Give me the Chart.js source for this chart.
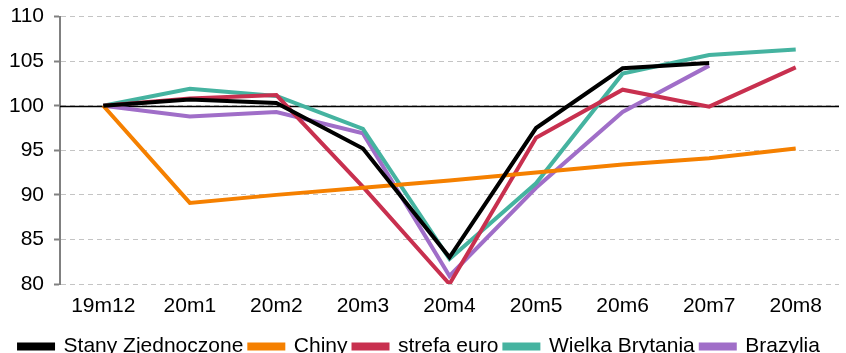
<!DOCTYPE html>
<html>
<head>
<meta charset="utf-8">
<script src="https://cdn.jsdelivr.net/npm/chart.js@4/dist/chart.umd.min.js"></script>
<style>
  html, body { margin: 0; padding: 0; background: #fff; overflow: hidden; }
  #wrap { width: 846px; height: 373px; position: relative; margin-top: -6px; }
</style>
</head>
<body>
<div id="wrap"><canvas id="c"></canvas></div>
<script>
// Monthly index, December 2019 = 100
const months = ['19m12', '20m1', '20m2', '20m3', '20m4', '20m5', '20m6', '20m7', '20m8'];
const stanyZjednoczone = [100, 100.7, 100.3, 95.2, 83.0, 97.5, 104.2, 104.8, null];
const chiny = [100, 89.1, 90.0, 90.8, 91.6, 92.5, 93.4, 94.1, 95.2];
const strefaEuro = [100, 100.8, 101.2, 90.9, 80.0, 96.4, 101.8, 99.9, 104.3];
const wielkaBrytania = [100, 101.9, 101.1, 97.4, 82.8, 91.3, 103.6, 105.7, 106.3];
const brazylia = [100, 98.8, 99.3, 96.9, 80.9, 90.8, 99.3, 104.5, null];
const yTicks = [80, 85, 90, 95, 100, 105, 110];

const FONT = "'Liberation Sans Narrow', 'Liberation Sans', Arial, sans-serif";

function series(label, data, color) {
  return {
    label, data,
    borderColor: color, backgroundColor: color,
    borderWidth: 4, pointRadius: 0, tension: 0,
    spanGaps: false, borderJoinStyle: 'miter'
  };
}

// solid reference line at 100 drawn through the y scale
const baseLine = {
  id: 'baseLine',
  beforeDatasetsDraw(chart) {
    const { ctx, chartArea, scales } = chart;
    const y = Math.round(scales.y.getPixelForValue(100)) + 0.5;
    ctx.save();
    ctx.strokeStyle = '#000';
    ctx.lineWidth = 1.5;
    ctx.beginPath();
    ctx.moveTo(chartArea.left, y);
    ctx.lineTo(chartArea.right, y);
    ctx.stroke();
    ctx.restore();
  }
};

new Chart(document.getElementById('c'), {
  type: 'line',
  data: {
    labels: months,
    datasets: [
      series('Stany Zjednoczone', stanyZjednoczone, '#000000'),
      series('Chiny', chiny, '#f58000'),
      series('strefa euro', strefaEuro, '#c8304f'),
      series('Wielka Brytania', wielkaBrytania, '#45b3a0'),
      series('Brazylia', brazylia, '#a06ec8')
    ]
  },
  options: {
    responsive: true,
    maintainAspectRatio: false,
    animation: false,
    layout: { padding: { top: 5, right: 7, left: 0, bottom: 0 } },
    plugins: {
      tooltip: { enabled: false },
      legend: {
        position: 'bottom',
        labels: {
          color: '#000',
          font: { family: FONT, size: 21 },
          boxWidth: 34,
          boxHeight: 4,
          padding: 6
        }
      }
    },
    scales: {
      x: {
        offset: true,
        grid: { display: false },
        border: { display: false },
        ticks: { color: '#000', font: { family: FONT, size: 21 }, padding: 2, maxRotation: 0 },
        afterFit(scale) { scale.height = 46; }
      },
      y: {
        min: 80, max: 110,
        afterBuildTicks(scale) { scale.ticks = yTicks.map(v => ({ value: v })); },
        grid: {
          color: '#c4c4c4', lineWidth: 1,
          drawTicks: true, tickLength: 6, tickColor: '#808080', tickWidth: 2
        },
        border: { display: true, color: '#808080', width: 2, dash: [5, 4] },
        ticks: { color: '#000', font: { family: FONT, size: 21 }, padding: 10 },
        afterFit(scale) { scale.width = 60; }
      }
    }
  },
  plugins: [baseLine]
});
</script>
</body>
</html>
